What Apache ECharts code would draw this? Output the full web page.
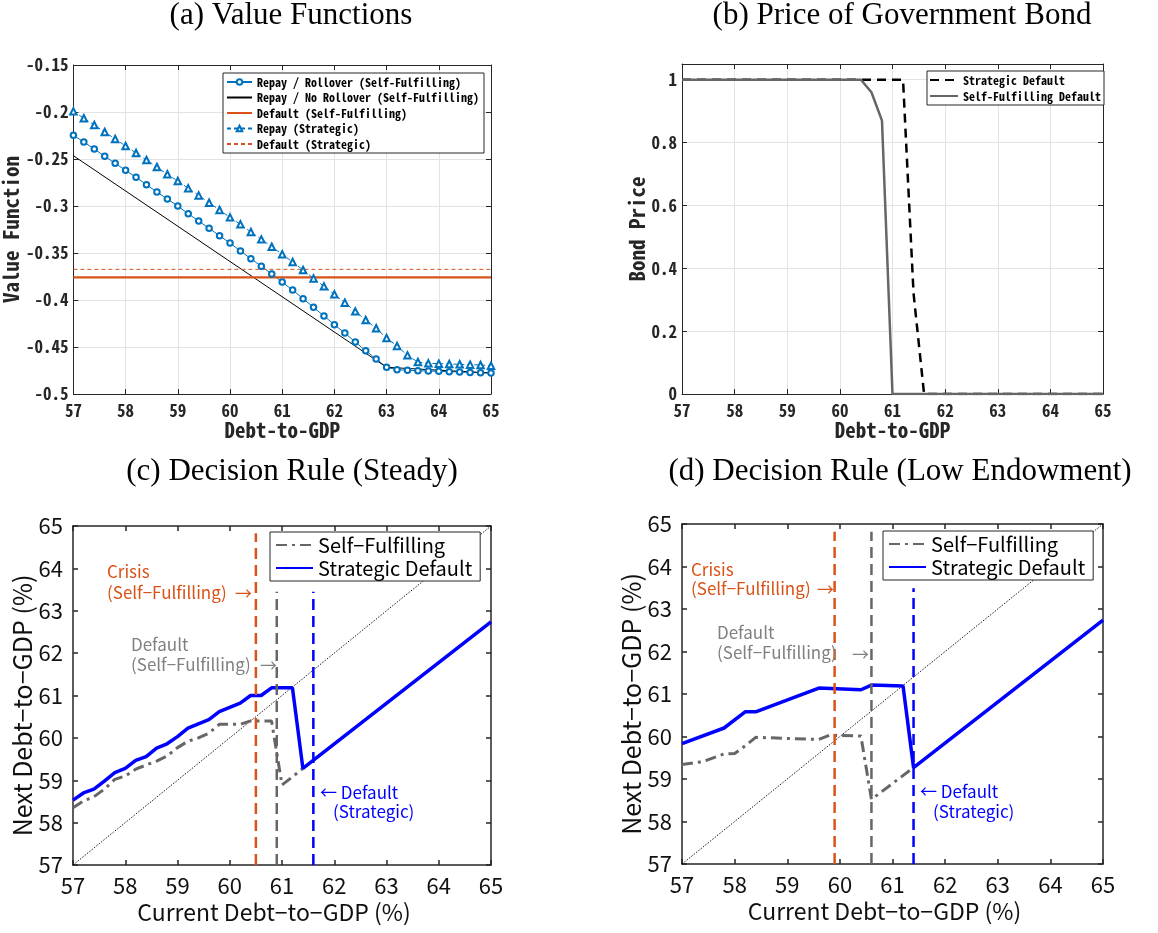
<!DOCTYPE html>
<html><head><meta charset="utf-8">
<script src="https://cdn.jsdelivr.net/npm/echarts@6/dist/echarts.min.js"></script>
<style>html,body{margin:0;padding:0;background:#fff}#c{width:1158px;height:933px}</style>
</head><body><div id="c"></div>
<script>
// ---------- Panel (a): value functions ----------
const debtGrid = [57.0,57.2,57.4,57.6,57.8,58.0,58.2,58.4,58.6,58.8,59.0,59.2,59.4,59.6,59.8,60.0,60.2,60.4,60.6,60.8,61.0,61.2,61.4,61.6,61.8,62.0,62.2,62.4,62.6,62.8,63.0,63.2,63.4,63.6,63.8,64.0,64.2,64.4,64.6,64.8,65.0];
const vRepayRollover = [-0.2248,-0.2319,-0.2394,-0.2472,-0.2546,-0.2621,-0.2695,-0.2773,-0.2851,-0.2926,-0.3000,-0.3082,-0.3160,-0.3238,-0.3316,-0.3394,-0.3479,-0.3560,-0.3642,-0.3723,-0.3809,-0.3894,-0.3986,-0.4078,-0.4170,-0.4262,-0.4351,-0.4447,-0.4539,-0.4628,-0.4716,-0.4741,-0.4748,-0.4752,-0.4755,-0.4759,-0.4762,-0.4766,-0.4770,-0.4773,-0.4777];
const vRepayStrategic = [-0.1993,-0.2067,-0.2138,-0.2213,-0.2287,-0.2362,-0.2436,-0.2511,-0.2585,-0.2663,-0.2734,-0.2812,-0.2887,-0.2965,-0.3043,-0.3121,-0.3195,-0.3277,-0.3355,-0.3433,-0.3514,-0.3596,-0.3681,-0.3770,-0.3855,-0.3940,-0.4028,-0.4121,-0.4213,-0.4301,-0.4404,-0.4489,-0.4589,-0.4660,-0.4674,-0.4677,-0.4681,-0.4684,-0.4688,-0.4691,-0.4699];
const noRolloverX = [57, 63, 65];
const vNoRollover = [-0.2465, -0.4716, -0.4777];
const defaultX = [57, 65];
const vDefaultSF = [-0.3759, -0.3759];
const vDefaultStrategic = [-0.3674, -0.3674];

// ---------- Panel (b): bond price ----------
const priceStrategicX = [57, 61.2, 61.4, 61.6, 65];
const priceStrategic = [1, 1, 0.32, 0, 0];
const priceSFX = [57, 60.4, 60.6, 60.8, 61.0, 65];
const priceSF = [1, 1, 0.96, 0.87, 0, 0];

// ---------- Panel (c): decision rule, steady ----------
const steadyBlueX = [57.0,57.2,57.4,57.6,57.8,58.0,58.2,58.4,58.6,58.8,59.0,59.2,59.4,59.6,59.8,60.0,60.2,60.4,60.6,60.8,61.0,61.2,61.4,65.0];
const steadyBlue = [58.53,58.70,58.79,58.98,59.18,59.28,59.47,59.56,59.76,59.86,60.03,60.23,60.33,60.43,60.62,60.72,60.82,61.00,61.00,61.18,61.18,61.18,59.28,62.74];
const steadyGrayX = [57.0,57.2,57.4,57.6,57.8,58.0,58.2,58.4,58.6,58.8,59.0,59.2,59.4,59.6,59.8,60.0,60.2,60.4,60.6,60.8,61.0,61.2,61.4];
const steadyGray = [58.35,58.51,58.61,58.79,59.02,59.10,59.26,59.36,59.45,59.57,59.77,59.92,60.00,60.11,60.32,60.32,60.32,60.40,60.40,60.40,58.89,59.08,59.28];
const steadyThresholds = [60.5, 60.9, 61.6];     // crisis, default (SF), default (strategic)
const steadyThresholdTops = [64.83, 63.45, 63.45];

// ---------- Panel (d): decision rule, low endowment ----------
const lowBlueX = [57.0, 57.8, 58.2, 58.4, 59.6, 60.4, 60.6, 61.2, 61.4, 65.0];
const lowBlue = [59.83, 60.20, 60.58, 60.58, 61.14, 61.10, 61.21, 61.19, 59.27, 62.74];
const lowGrayX = [57.0, 57.4, 57.8, 58.0, 58.2, 58.4, 59.6, 59.8, 60.4, 60.6, 61.4];
const lowGray = [59.34, 59.41, 59.59, 59.60, 59.78, 59.98, 59.93, 60.03, 60.01, 58.52, 59.27];
const lowThresholds = [59.9, 60.6, 61.4];
const lowThresholdTops = [64.82, 64.82, 63.49];

const diagX = [57, 65];
const diagY = [57, 65];

// ---------- helpers ----------
const zip = (xs, ys) => xs.map((x, i) => [x, ys[i]]);
const vline = (x, top) => [[x, 57], [x, top]];
const AX = '#262626';
const MONO = '"Noto Sans Mono CJK JP", "DejaVu Sans Mono", monospace';
const JP = '"Noto Sans CJK JP", "Noto Sans", sans-serif';
const SERIF = '"Liberation Serif", serif';

function xAxes(gi, o) {
  return [
    { type: 'value', gridIndex: gi, min: o.min, max: o.max, interval: o.interval, position: 'bottom',
      axisLine: { show: true, onZero: false, lineStyle: { color: AX, width: o.lw } },
      axisTick: { show: true, inside: true, length: 5, lineStyle: { color: AX, width: o.lw } },
      axisLabel: { margin: o.lm, fontFamily: o.lf, fontSize: o.ls, fontWeight: o.fw, color: o.lc },
      splitLine: { show: o.grid, lineStyle: { color: '#e3e3e3', width: 1 } },
      name: o.name, nameLocation: 'middle', nameGap: o.ng,
      nameTextStyle: { fontFamily: o.nf, fontSize: o.ns, fontWeight: o.fw, color: o.lc, padding: o.np || 0 } },
    { type: 'value', gridIndex: gi, min: o.min, max: o.max, interval: o.interval, position: 'top',
      axisLine: { show: true, onZero: false, lineStyle: { color: AX, width: o.lw } },
      axisTick: { show: true, inside: true, length: 5, lineStyle: { color: AX, width: o.lw } },
      axisLabel: { show: false }, splitLine: { show: false } }
  ];
}
function yAxes(gi, o) {
  return [
    { type: 'value', gridIndex: gi, min: o.min, max: o.max, interval: o.interval, position: 'left',
      axisLine: { show: true, onZero: false, lineStyle: { color: AX, width: o.lw } },
      axisTick: { show: true, inside: true, length: 5, lineStyle: { color: AX, width: o.lw } },
      axisLabel: { margin: o.lm, fontFamily: o.lf, fontSize: o.ls, fontWeight: o.fw, color: o.lc, showMaxLabel: o.showMax },
      splitLine: { show: o.grid, lineStyle: { color: '#e3e3e3', width: 1 } },
      name: o.name, nameLocation: 'middle', nameGap: o.ng,
      nameTextStyle: { fontFamily: o.nf, fontSize: o.ns, fontWeight: o.fw, color: o.lc, padding: o.np || 0 } },
    { type: 'value', gridIndex: gi, min: o.min, max: o.max, interval: o.interval, position: 'right',
      axisLine: { show: true, onZero: false, lineStyle: { color: AX, width: o.lw } },
      axisTick: { show: true, inside: true, length: 5, lineStyle: { color: AX, width: o.lw } },
      axisLabel: { show: false }, splitLine: { show: false } }
  ];
}

const abX = { min: 57, max: 65, interval: 1, lw: 1, lm: 8, lf: MONO, ls: 17, fw: 'bold', lc: '#262626', grid: true,
  name: 'Debt-to-GDP', ng: 26, nf: MONO, ns: 21 };
const cdX = { min: 57, max: 65, interval: 1, lw: 1.5, lm: 10, lf: JP, ls: 22, fw: 'normal', lc: '#111', grid: false,
  name: 'Current Debt−to−GDP (%)', ng: 36, nf: JP, ns: 23, np: [0, 16, 0, 0] };
const cdY = { min: 57, max: 65, interval: 1, lw: 1.5, lm: 10, lf: JP, ls: 22, fw: 'normal', lc: '#111', grid: false,
  name: 'Next Debt−to−GDP (%)', ng: 35, nf: JP, ns: 25, np: [0, 20, 0, 0], showMax: true };

const xAxis = [].concat(
  xAxes(0, abX), xAxes(1, abX), xAxes(2, cdX), xAxes(3, cdX));
const yAxis = [].concat(
  yAxes(0, { min: -0.5, max: -0.15, interval: 0.05, lw: 1, lm: 5, lf: MONO, ls: 17, fw: 'bold', lc: '#262626', grid: true,
    name: 'Value Function', ng: 46, nf: MONO, ns: 21, showMax: true }),
  yAxes(1, { min: 0, max: 1.05, interval: 0.2, lw: 1, lm: 5, lf: MONO, ls: 17, fw: 'bold', lc: '#262626', grid: true,
    name: 'Bond Price', ng: 29, nf: MONO, ns: 21, showMax: false }),
  yAxes(2, cdY), yAxes(3, cdY));

const grid = [
  { left: 73, top: 65, width: 418, height: 329 },
  { left: 682, top: 64, width: 421, height: 330 },
  { left: 73, top: 526, width: 418, height: 339 },
  { left: 682, top: 524, width: 421, height: 340 }
];

const BLUE_M = '#0072BD', ORANGE_M = '#D95319';
const base = { type: 'line', silent: true, animation: false };
const series = [
  // (a)
  Object.assign({}, base, { name: 'Repay / Rollover (Self-Fulfilling)', xAxisIndex: 0, yAxisIndex: 0,
    data: zip(debtGrid, vRepayRollover), symbol: 'emptyCircle', symbolSize: 5.5,
    itemStyle: { color: BLUE_M, borderWidth: 0.9 }, lineStyle: { color: BLUE_M, width: 1 } }),
  Object.assign({}, base, { name: 'Repay / No Rollover (Self-Fulfilling)', xAxisIndex: 0, yAxisIndex: 0,
    data: zip(noRolloverX, vNoRollover), symbol: 'none', itemStyle: { color: '#000' }, lineStyle: { color: '#000', width: 1 } }),
  Object.assign({}, base, { name: 'Default (Self-Fulfilling)', xAxisIndex: 0, yAxisIndex: 0,
    data: zip(defaultX, vDefaultSF), symbol: 'none', itemStyle: { color: ORANGE_M }, lineStyle: { color: ORANGE_M, width: 2.2 } }),
  Object.assign({}, base, { name: 'Repay (Strategic)', xAxisIndex: 0, yAxisIndex: 0,
    data: zip(debtGrid, vRepayStrategic), symbol: 'emptyTriangle', symbolSize: 6.5,
    itemStyle: { color: BLUE_M, borderWidth: 0.7 }, lineStyle: { color: BLUE_M, width: 1, type: [4, 3] } }),
  Object.assign({}, base, { name: 'Default (Strategic)', xAxisIndex: 0, yAxisIndex: 0,
    data: zip(defaultX, vDefaultStrategic), symbol: 'none', itemStyle: { color: ORANGE_M }, lineStyle: { color: ORANGE_M, width: 1, type: [4, 3] } }),
  // (b)
  Object.assign({}, base, { name: 'Strategic Default', xAxisIndex: 2, yAxisIndex: 2,
    data: zip(priceStrategicX, priceStrategic), symbol: 'none', itemStyle: { color: '#000' }, lineStyle: { color: '#000', width: 2.5, type: [9, 6] } }),
  Object.assign({}, base, { name: 'Self-Fulfilling Default', xAxisIndex: 2, yAxisIndex: 2,
    data: zip(priceSFX, priceSF), symbol: 'none', itemStyle: { color: '#666' }, lineStyle: { color: '#666', width: 2.5 } })
];

function decisionSeries(tag, xi, yi, grayX, gray, blueX, blue, thr, tops) {
  const out = [];
  out.push(Object.assign({}, base, { name: 'diag' + tag, xAxisIndex: xi, yAxisIndex: yi, data: zip(diagX, diagY), symbol: 'none',
    lineStyle: { color: '#000', width: 0.9, type: [1.5, 1.5] } }));
  out.push(Object.assign({}, base, { name: 'Self−Fulfilling ' + tag, xAxisIndex: xi, yAxisIndex: yi, data: zip(grayX, gray), symbol: 'none',
    itemStyle: { color: '#666' }, lineStyle: { color: '#666', width: 3, type: [11, 5, 3, 5] } }));
  out.push(Object.assign({}, base, { name: 'Strategic Default ' + tag, xAxisIndex: xi, yAxisIndex: yi, data: zip(blueX, blue), symbol: 'none',
    itemStyle: { color: '#0000FF' }, lineStyle: { color: '#0000FF', width: 3.5 } }));
  const cols = [ORANGE_M, '#666', '#0000FF'];
  thr.forEach((t, i) => out.push(Object.assign({}, base, { name: 'thr' + tag + i, xAxisIndex: xi, yAxisIndex: yi,
    data: vline(t, tops[i]), symbol: 'none', z: 3, lineStyle: { color: cols[i], width: 2.5, type: [11, 6] } })));
  return out;
}
series.push(...decisionSeries('(c)', 4, 4, steadyGrayX, steadyGray, steadyBlueX, steadyBlue, steadyThresholds, steadyThresholdTops));
series.push(...decisionSeries('(d)', 6, 6, lowGrayX, lowGray, lowBlueX, lowBlue, lowThresholds, lowThresholdTops));

const noSym = name => ({ name: name, itemStyle: { opacity: 0 } });
const legendCommon = { orient: 'vertical', selectedMode: false, borderColor: AX, borderWidth: 1, backgroundColor: '#fff', borderRadius: 0 };
const legend = [
  Object.assign({}, legendCommon, { left: 223, top: 73, itemWidth: 25, itemHeight: 7, itemGap: 3.5, padding: [3, 5, 3, 3],
    data: ['Repay / Rollover (Self-Fulfilling)', noSym('Repay / No Rollover (Self-Fulfilling)'), noSym('Default (Self-Fulfilling)'),
      'Repay (Strategic)', noSym('Default (Strategic)')],
    textStyle: { fontFamily: MONO, fontSize: 12, fontWeight: 'bold', color: '#000' } }),
  Object.assign({}, legendCommon, { left: 927, top: 71, itemWidth: 28, itemHeight: 7, itemGap: 4, padding: [3, 3, 3, 2],
    data: [noSym('Strategic Default'), noSym('Self-Fulfilling Default')],
    textStyle: { fontFamily: MONO, fontSize: 12, fontWeight: 'bold', color: '#000' } }),
  Object.assign({}, legendCommon, { left: 270, top: 532, itemWidth: 37, itemHeight: 10, itemGap: 3, padding: [3, 8, 3, 5],
    data: [noSym('Self−Fulfilling (c)'), noSym('Strategic Default (c)')], formatter: n => n.replace(/ \([cd]\)$/, ''),
    textStyle: { fontFamily: JP, fontSize: 20, color: '#000' } }),
  Object.assign({}, legendCommon, { left: 883, top: 531, itemWidth: 37, itemHeight: 10, itemGap: 3, padding: [3, 8, 3, 5],
    data: [noSym('Self−Fulfilling (d)'), noSym('Strategic Default (d)')], formatter: n => n.replace(/ \([cd]\)$/, ''),
    textStyle: { fontFamily: JP, fontSize: 20, color: '#000' } })
];

function txt(text, x, y, color, font, align) {
  return { type: 'text', x: x, y: y, silent: true, z: 100,
    style: { text: text, fill: color, font: font, align: align || 'left', verticalAlign: 'middle' } };
}
const TF = '31px ' + SERIF;
const AF = '17px ' + JP;
const graphic = [
  txt('(a) Value Functions', 291, 16, '#000', TF, 'center'),
  txt('(b) Price of Government Bond', 902, 16, '#000', TF, 'center'),
  txt('(c) Decision Rule (Steady)', 292, 472, '#000', TF, 'center'),
  txt('(d) Decision Rule (Low Endowment)', 900, 472, '#000', TF, 'center'),
  // (c) annotations
  txt('Crisis', 107, 572, ORANGE_M, AF), txt('(Self−Fulfilling)', 107, 593, ORANGE_M, AF), txt('→', 235, 594, ORANGE_M, AF),
  txt('Default', 131, 645, '#808080', AF), txt('(Self−Fulfilling)', 131, 665, '#808080', AF), txt('→', 260, 666, '#808080', AF),
  txt('← Default', 320, 793, '#0000FF', AF), txt('(Strategic)', 333, 812, '#0000FF', AF),
  // (d) annotations
  txt('Crisis', 691, 570, ORANGE_M, AF), txt('(Self−Fulfilling)', 691, 589, ORANGE_M, AF), txt('→', 817, 590, ORANGE_M, AF),
  txt('Default', 717, 633, '#808080', AF), txt('(Self−Fulfilling)', 717, 653, '#808080', AF), txt('→', 852, 655, '#808080', AF),
  txt('← Default', 920, 792, '#0000FF', AF), txt('(Strategic)', 933, 812, '#0000FF', AF)
];

const chart = echarts.init(document.getElementById('c'), null, { renderer: 'canvas', width: 1158, height: 933 });
chart.setOption({ animation: false, backgroundColor: '#fff', grid, xAxis, yAxis, series, legend, graphic });
</script></body></html>
